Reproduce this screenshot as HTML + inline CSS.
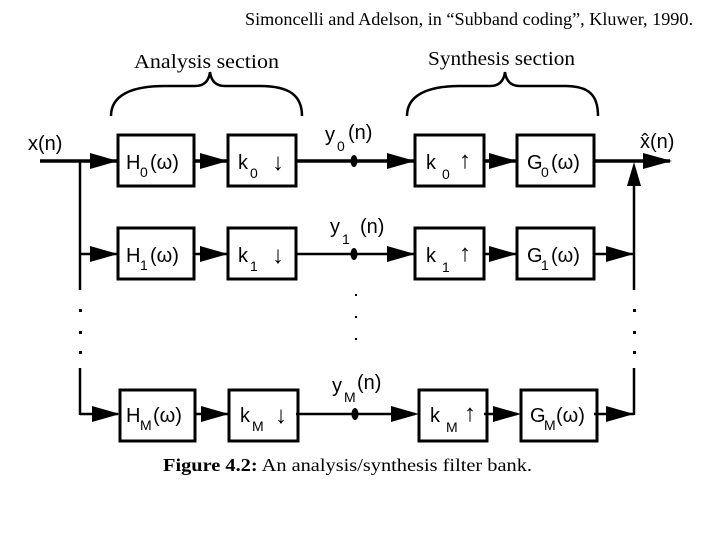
<!DOCTYPE html>
<html><head><meta charset="utf-8"><style>
html,body{margin:0;padding:0;background:#fff;}
svg{display:block}
text{font-family:"Liberation Sans",sans-serif;fill:#000}
.s{font-family:"Liberation Serif",serif}
</style></head><body>
<svg width="720" height="540" viewBox="0 0 720 540" xmlns="http://www.w3.org/2000/svg">
<text x="245" y="25" class="s" font-size="18" textLength="448" lengthAdjust="spacingAndGlyphs">Simoncelli and Adelson, in “Subband coding”, Kluwer, 1990.</text>
<text x="134" y="68" class="s" font-size="20" textLength="145" lengthAdjust="spacingAndGlyphs">Analysis  section</text>
<text x="428" y="65" class="s" font-size="20" textLength="147" lengthAdjust="spacingAndGlyphs">Synthesis section</text>
<path d="M111 116 C111 96,130 86,165 86 L195 86 C205 86,209 80,210 72 C211 80,215 86,225 86 L260 86 C290 86,302 96,302 116" fill="none" stroke="#000" stroke-width="2.5"/>
<path d="M407 116 C407 96,426 86,460 86 L490 86 C500 86,504 80,505 72 C506 80,510 86,520 86 L565 86 C590 86,598 96,598 116" fill="none" stroke="#000" stroke-width="2.5"/>
<g fill="none" stroke="#000">
<line x1="40" y1="161" x2="118" y2="161" stroke-width="3.5"/>
<line x1="194" y1="161" x2="228" y2="161" stroke-width="3.5"/>
<line x1="296" y1="161" x2="415" y2="161" stroke-width="3.5"/>
<line x1="484" y1="161" x2="517" y2="161" stroke-width="3.5"/>
<line x1="594" y1="161" x2="670" y2="161" stroke-width="3.5"/>
<line x1="80" y1="254" x2="118" y2="254" stroke-width="2.5"/>
<line x1="194" y1="254" x2="228" y2="254" stroke-width="2.5"/>
<line x1="296" y1="254" x2="415" y2="254" stroke-width="2.5"/>
<line x1="484" y1="254" x2="517" y2="254" stroke-width="2.5"/>
<line x1="594" y1="254" x2="634" y2="254" stroke-width="2.5"/>
<line x1="80" y1="414" x2="118" y2="414" stroke-width="2.5"/>
<line x1="194" y1="414" x2="228" y2="414" stroke-width="2.5"/>
<line x1="296" y1="414" x2="415" y2="414" stroke-width="2.5"/>
<line x1="484" y1="414" x2="517" y2="414" stroke-width="2.5"/>
<line x1="594" y1="414" x2="634" y2="414" stroke-width="2.5"/>
<line x1="80" y1="161" x2="80" y2="290" stroke-width="2.5"/>
<line x1="80" y1="368" x2="80" y2="415" stroke-width="2.5"/>
<line x1="634" y1="180" x2="634" y2="290" stroke-width="2.5"/>
<line x1="634" y1="368" x2="634" y2="415" stroke-width="2.5"/>
<rect x="118" y="135" width="76" height="51" stroke-width="3"/>
<rect x="228" y="135" width="68" height="51" stroke-width="3"/>
<rect x="415" y="135" width="69" height="51" stroke-width="3"/>
<rect x="517" y="135" width="77" height="51" stroke-width="3"/>
<rect x="118" y="228" width="76" height="51" stroke-width="3"/>
<rect x="228" y="228" width="68" height="51" stroke-width="3"/>
<rect x="415" y="228" width="69" height="51" stroke-width="3"/>
<rect x="517" y="228" width="77" height="51" stroke-width="3"/>
<rect x="120" y="390" width="75" height="51" stroke-width="3"/>
<rect x="229" y="390" width="69" height="51" stroke-width="3"/>
<rect x="419" y="390" width="68" height="51" stroke-width="3"/>
<rect x="521" y="390" width="76" height="51" stroke-width="3"/>
</g>
<g fill="#000">
<polygon points="90,153 118,161 90,169"/>
<polygon points="200,153 228,161 200,169"/>
<polygon points="387,153 415,161 387,169"/>
<polygon points="489,153 517,161 489,169"/>
<polygon points="643,153 672,161 643,169"/>
<polygon points="90,246 118,254 90,262"/>
<polygon points="200,246 228,254 200,262"/>
<polygon points="387,246 415,254 387,262"/>
<polygon points="489,246 517,254 489,262"/>
<polygon points="606,246 634,254 606,262"/>
<polygon points="92,406 120,414 92,422"/>
<polygon points="201,406 229,414 201,422"/>
<polygon points="391,406 419,414 391,422"/>
<polygon points="493,406 521,414 493,422"/>
<polygon points="606,406 634,414 606,422"/>
<polygon points="627,186 634,162 641,186"/>
<ellipse cx="354" cy="161" rx="3.5" ry="6"/>
<ellipse cx="354" cy="254" rx="3.5" ry="6"/>
<ellipse cx="355" cy="414" rx="3.5" ry="6"/>
<rect x="79" y="309" width="3" height="3"/><rect x="79" y="331" width="3" height="3"/><rect x="79" y="351" width="3" height="3"/>
<rect x="633" y="309" width="3" height="3"/><rect x="633" y="331" width="3" height="3"/><rect x="633" y="351" width="3" height="3"/>
<rect x="355" y="294" width="2" height="2"/><rect x="355" y="316" width="2" height="2"/><rect x="355" y="338" width="2" height="2"/>
</g>
<g font-size="20">
<text x="28" y="150">x(n)</text>
<text x="640" y="148">x̂(n)</text>
<text x="126" y="169">H</text><text x="140" y="177" font-size="14">0</text><text x="150" y="169">(ω)</text>
<text x="126" y="262">H</text><text x="140" y="270" font-size="14">1</text><text x="150" y="262">(ω)</text>
<text x="126" y="422">H</text><text x="140" y="430" font-size="14">M</text><text x="153" y="422">(ω)</text>
<text x="238" y="169">k</text><text x="250" y="178" font-size="14">0</text><text x="272" y="170" font-size="24" font-weight="bold">↓</text>
<text x="238" y="262">k</text><text x="250" y="271" font-size="14">1</text><text x="272" y="263" font-size="24" font-weight="bold">↓</text>
<text x="240" y="422">k</text><text x="252" y="431" font-size="14">M</text><text x="275" y="423" font-size="24" font-weight="bold">↓</text>
<text x="426" y="169">k</text><text x="442" y="179" font-size="14">0</text><text x="459" y="168" font-size="24" font-weight="bold">↑</text>
<text x="426" y="262">k</text><text x="442" y="272" font-size="14">1</text><text x="459" y="261" font-size="24" font-weight="bold">↑</text>
<text x="430" y="422">k</text><text x="446" y="432" font-size="14">M</text><text x="464" y="421" font-size="24" font-weight="bold">↑</text>
<text x="527" y="169">G</text><text x="541" y="177" font-size="14">0</text><text x="551" y="169">(ω)</text>
<text x="527" y="262">G</text><text x="541" y="270" font-size="14">1</text><text x="551" y="262">(ω)</text>
<text x="530" y="422">G</text><text x="544" y="430" font-size="14">M</text><text x="556" y="422">(ω)</text>
<text x="325" y="141">y</text><text x="337" y="151" font-size="14">0</text><text x="348" y="139">(n)</text>
<text x="330" y="233">y</text><text x="342" y="244" font-size="14">1</text><text x="360" y="233">(n)</text>
<text x="332" y="392">y</text><text x="344" y="402" font-size="14">M</text><text x="357" y="389">(n)</text>
</g>
<text x="163" y="471" class="s" font-size="18" textLength="369" lengthAdjust="spacingAndGlyphs"><tspan font-weight="bold">Figure 4.2:</tspan> An analysis/synthesis filter bank.</text>
</svg>
</body></html>
